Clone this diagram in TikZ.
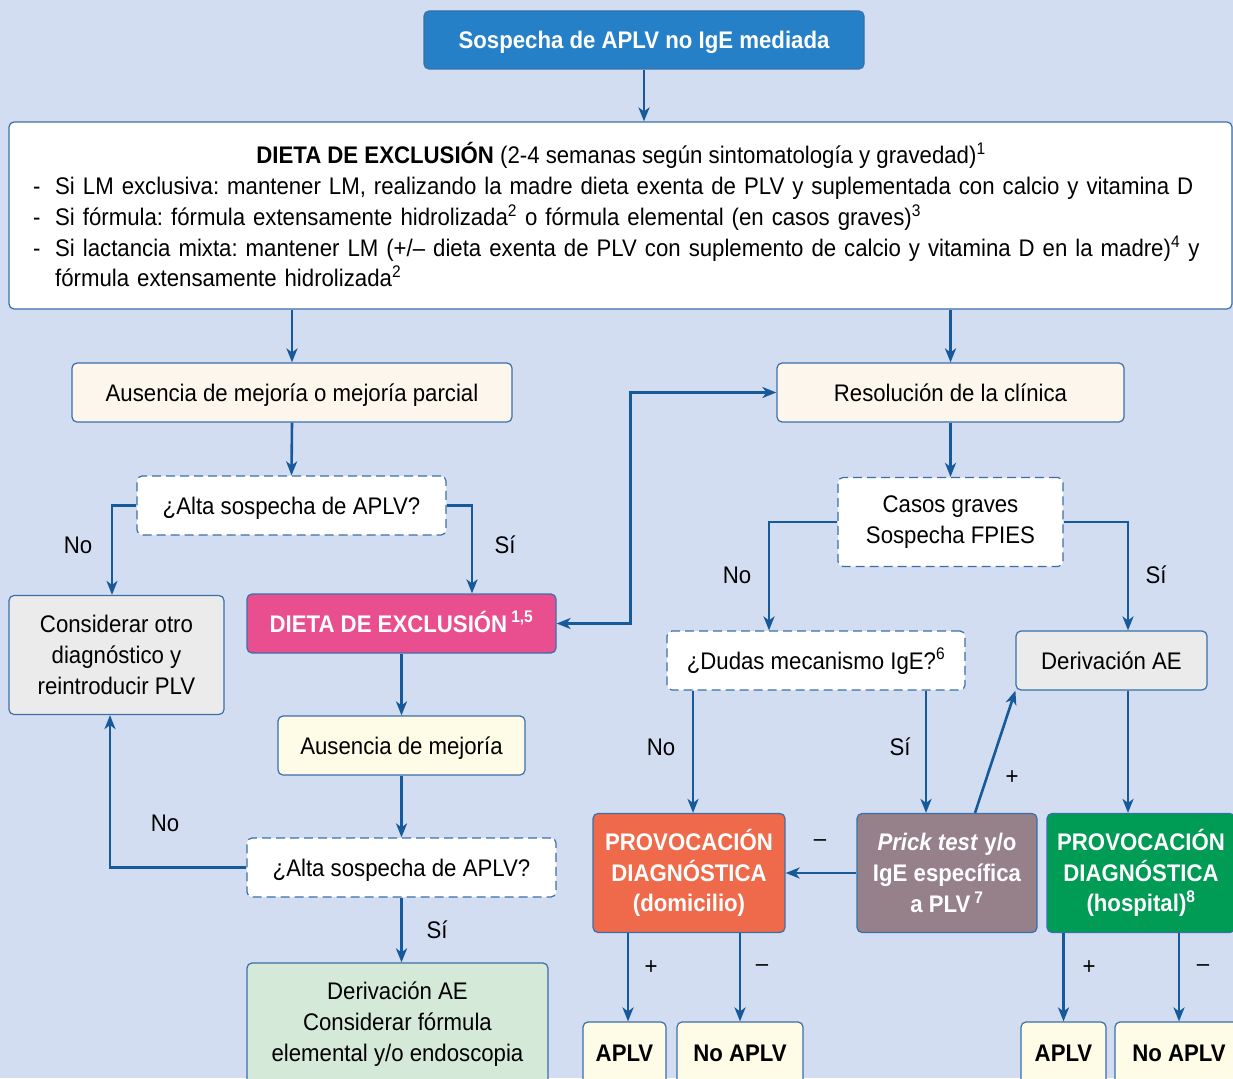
\documentclass[tikz,border=0pt]{standalone}
\usepackage{fontspec}
\setmainfont{Liberation Sans}[FakeStretch=0.925]
\usetikzlibrary{arrows.meta}
\newcommand{\boxfont}{\fontsize{24}{30.8}\selectfont\frenchspacing}
\definecolor{bg}{HTML}{D2DDF1}
\definecolor{line}{HTML}{3A6FA8}
\definecolor{arrblue}{HTML}{175A9B}
\definecolor{topblue}{HTML}{2580C7}
\definecolor{cream}{HTML}{FDF6EC}
\definecolor{pale}{HTML}{FEFCE6}
\definecolor{greyf}{HTML}{EBEBEB}
\definecolor{pink}{HTML}{E94F8F}
\definecolor{mint}{HTML}{D4E9D7}
\definecolor{orange}{HTML}{EE6A4B}
\definecolor{mauve}{HTML}{968089}
\definecolor{green}{HTML}{009B55}
\tikzset{
  box/.style={draw=line, line width=1.2pt, rounded corners=5pt, align=center, inner sep=0pt},
  one/.style={text height=17pt, text depth=0pt},
  dbox/.style={box, fill=white, dash pattern=on 9pt off 5pt},
  wbox/.style={box, text=white, font=\boxfont\bfseries},
  sz/.style 2 args={minimum width=#1, minimum height=#2},
  lab/.style={inner sep=0pt},
  >={Stealth[length=14pt,width=11pt,inset=4pt]}
}

\begin{document}
\begin{tikzpicture}[x=1pt, y=-1pt, font=\boxfont]
         \useasboundingbox (0,0) rectangle (1233,1078);
         \clip (0,0) rectangle (1233,1078);
         \fill [bg] (0,0) rectangle (1233,1078);
         \node [wbox, one, fill=topblue, sz={440pt}{58pt}] (Top) at (644,40) {Sospecha de APLV no IgE mediada};
         \node [box, fill=white, sz={1223pt}{187pt}] (Diet) at (620.5,215.5) {};
         \node [lab, anchor=base] (DietTtl) at (621,164) {\textbf{DIETA DE EXCLUSIÓN} (2-4 semanas según sintomatología y gravedad)\textsuperscript{1}};
         \node [lab, anchor=north west, text width=1200pt, align=left] (DietLst) at (33,177) {%
           \makebox[22pt][l]{-}Si LM exclusiva: mantener LM, realizando la madre dieta exenta de PLV y suplementada con calcio y vitamina D\\
           \makebox[22pt][l]{-}Si fórmula: fórmula extensamente hidrolizada\textsuperscript{2} o fórmula elemental (en casos graves)\textsuperscript{3}\\
           \makebox[22pt][l]{-}Si lactancia mixta: mantener LM (+/– dieta exenta de PLV con suplemento de calcio y vitamina D en la madre)\textsuperscript{4} y\\
           \hspace*{22pt}fórmula extensamente hidrolizada\textsuperscript{2}};
         \node [box, one, fill=cream, sz={440pt}{59pt}] (AusP) at (292,392.5) {Ausencia de mejoría o mejoría parcial};
         \node [box, one, fill=cream, sz={347pt}{59pt}] (Res) at (950.5,392.5) {Resolución de la clínica};
         \node [dbox, one, sz={309pt}{59pt}] (Alta1) at (291.5,505.5) {¿Alta sospecha de APLV?};
         \node [box, fill=greyf, sz={215pt}{119pt}] (Consid) at (116.5,655) {Considerar otro\\diagnóstico y\\reintroducir PLV};
         \node [wbox, one, fill=pink, sz={309pt}{59pt}] (Dieta) at (401.5,623.5) {DIETA DE EXCLUSIÓN\,\textsuperscript{1,5}};
         \node [box, one, fill=pale, sz={247pt}{59pt}] (AusM) at (401.5,745.5) {Ausencia de mejoría};
         \node [dbox, one, sz={309pt}{59pt}] (Alta2) at (401.5,867.5) {¿Alta sospecha de APLV?};
         \node [box, fill=mint, sz={301pt}{122pt}] (DerivF) at (397.5,1024) {Derivación AE\\Considerar fórmula\\elemental y/o endoscopia};
         \node [dbox, sz={225pt}{89pt}] (Casos) at (950.5,522) {Casos graves\\Sospecha FPIES};
         \node [dbox, one, sz={298pt}{59pt}] (Dudas) at (816,660.5) {¿Dudas mecanismo IgE?\textsuperscript{6}};
         \node [box, one, fill=greyf, sz={191pt}{59pt}] (DerivAE) at (1111.5,660.5) {Derivación AE};
         \node [wbox, fill=orange, sz={192pt}{119pt}] (Prov1) at (689,873) {PROVOCACIÓN\\DIAGNÓSTICA\\(domicilio)};
         \node [wbox, fill=mauve, sz={180pt}{119pt}] (Prick) at (947,873) {\textit{Prick test} y/o\\IgE específica\\a PLV\,\textsuperscript{7}};
         \node [wbox, fill=green, sz={188pt}{119pt}] (Prov2) at (1141,873) {PROVOCACIÓN\\DIAGNÓSTICA\\(hospital)\textsuperscript{8}};
         \node [box, one, fill=pale, font=\boxfont\bfseries, sz={83pt}{62pt}] (Aplv1) at (624.5,1053) {APLV};
         \node [box, one, fill=pale, font=\boxfont\bfseries, sz={126pt}{62pt}] (NoAplv1) at (740,1053) {No APLV};
         \node [box, one, fill=pale, font=\boxfont\bfseries, sz={85pt}{62pt}] (Aplv2) at (1063.5,1053) {APLV};
         \node [box, one, fill=pale, font=\boxfont\bfseries, sz={128pt}{62pt}] (NoAplv2) at (1179,1053) {No APLV};
         \node [lab] (LNo1) at (78,545) {No};
         \node [lab] (LSi1) at (505,545) {Sí};
         \node [lab] (LNo2) at (165,823) {No};
         \node [lab] (LSi2) at (437,930) {Sí};
         \node [lab] (LNo3) at (737,575) {No};
         \node [lab] (LSi3) at (1156,575) {Sí};
         \node [lab] (LNo4) at (661,747) {No};
         \node [lab] (LSi4) at (900,747) {Sí};
         \node [lab] (LMin1) at (820,843) {–};
         \node [lab] (LPls1) at (1012,778) {+};
         \node [lab] (LPls2) at (651,968) {+};
         \node [lab] (LMin2) at (762,968) {–};
         \node [lab] (LPls3) at (1089,968) {+};
         \node [lab] (LMin3) at (1203,968) {–};
         \begin{scope}[draw=arrblue, line width=2.6pt]
         \draw [->] (Top.south) -- (Top.south |- Diet.north);
         \draw [->] (AusP.north |- Diet.south) -- (AusP.north);
         \draw [->] (Res.north |- Diet.south) -- (Res.north);
         \draw [->] (AusP.south) -- (Alta1.north);
         \draw [->] (Alta1.west) -| ([xshift=-4.5pt]Consid.north);
         \draw [->] (Alta1.east) -| ([xshift=70.5pt]Dieta.north);
         \draw [<->] (Dieta.east) -- ++(74,0) |- (Res.west);
         \draw [->] (Dieta.south) -- (AusM.north);
         \draw [->] (AusM.south) -- (Alta2.north);
         \draw [->] (Alta2.west) -| ([xshift=-6.5pt]Consid.south);
         \draw [->] (Alta2.south) -- (Alta2.south |- DerivF.north);
         \draw [->] (Res.south) -- (Casos.north);
         \draw [->] (Casos.west) -| ([xshift=-47pt]Dudas.north);
         \draw [->] (Casos.east) -| ([xshift=16.5pt]DerivAE.north);
         \draw [->] ([xshift=4pt]Prov1.north |- Dudas.south) -- ([xshift=4pt]Prov1.north);
         \draw [->] ([xshift=-21pt]Prick.north |- Dudas.south) -- ([xshift=-21pt]Prick.north);
         \draw [->] (Prick.west) -- (Prov1.east);
         \draw [->] ([xshift=28pt]Prick.north) -- (DerivAE.south west);
         \draw [->] ([xshift=16.5pt]DerivAE.south) -- ([xshift=16.5pt]DerivAE.south |- Prov2.north);
         \draw [->] ([xshift=3.5pt]Aplv1.north |- Prov1.south) -- ([xshift=3.5pt]Aplv1.north);
         \draw [->] (NoAplv1.north |- Prov1.south) -- (NoAplv1.north);
         \draw [->] (Aplv2.north |- Prov2.south) -- (Aplv2.north);
         \draw [->] (NoAplv2.north |- Prov2.south) -- (NoAplv2.north);
         \end{scope}
 \end{tikzpicture}
\end{document}
